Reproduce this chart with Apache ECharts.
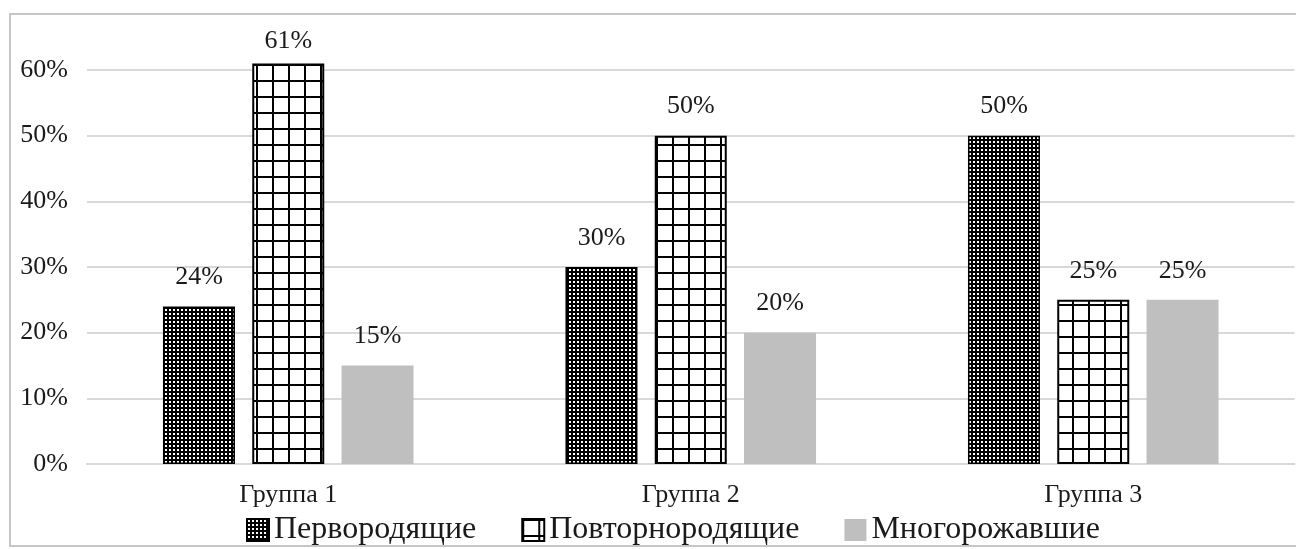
<!DOCTYPE html>
<html>
<head>
<meta charset="utf-8">
<script src="https://cdn.jsdelivr.net/npm/echarts@6/dist/echarts.min.js"></script>
<style>
  html, body { margin: 0; padding: 0; background: #fff; }
  #chart { width: 1296px; height: 549px; }
</style>
</head>
<body>
<div id="chart"></div>
<script>
// Group labels and series values (percent)
const categories = ['Группа 1', 'Группа 2', 'Группа 3'];
const seriesNames = ['Первородящие', 'Повторнородящие', 'Многорожавшие'];
const firstBirth = [24, 30, 50];
const repeatBirth = [61, 50, 25];
const multiBirth = [15, 20, 25];

const serif = '"Liberation Serif", "Times New Roman", serif';
const textColor = '#1a1a1a';

// Dense dotted fill: black with small white squares
function dottedPattern() {
  const c = document.createElement('canvas');
  c.width = 4; c.height = 4;
  const g = c.getContext('2d');
  g.fillStyle = '#000';
  g.fillRect(0, 0, 4, 4);
  g.fillStyle = '#fff';
  g.fillRect(1, 1, 2, 2);
  return c;
}

// Open grid fill: white cells separated by black lines
function gridPattern() {
  const c = document.createElement('canvas');
  c.width = 16; c.height = 16;
  const g = c.getContext('2d');
  g.fillStyle = '#fff';
  g.fillRect(0, 0, 16, 16);
  g.fillStyle = '#000';
  g.fillRect(0, 0, 2, 16);
  g.fillRect(0, 0, 16, 2);
  return c;
}

const chart = echarts.init(document.getElementById('chart'), null, { renderer: 'canvas' });

const labelStyle = {
  show: true,
  position: 'top',
  distance: 16,
  formatter: '{c}%',
  fontFamily: serif,
  fontSize: 26,
  color: textColor
};

function withTopLabel(values, tightIndex) {
  return values.map((v, i) => i === tightIndex
    ? { value: v, label: { distance: 9 } }
    : v);
}

chart.setOption({
  animation: false,
  backgroundColor: '#fff',
  graphic: [{
    type: 'rect',
    shape: { x: 10, y: 14, width: 1300, height: 532 },
    style: { fill: 'none', stroke: '#c6c6c6', lineWidth: 2 },
    silent: true,
    z: -1
  }],
  grid: { left: 87, right: 1.5, top: 70, bottom: 85 },
  legend: {
    left: 241,
    top: 509,
    icon: 'rect',
    itemWidth: 22,
    itemHeight: 22,
    itemGap: 45,
    textStyle: { fontFamily: serif, fontSize: 32, color: textColor },
    data: seriesNames
  },
  xAxis: {
    type: 'category',
    data: categories,
    axisTick: { show: false },
    axisLine: { lineStyle: { color: '#d9d9d9', width: 2 } },
    axisLabel: { fontFamily: serif, fontSize: 26, color: textColor, margin: 18 }
  },
  yAxis: {
    type: 'value',
    min: 0,
    max: 60,
    interval: 10,
    axisLine: { show: false },
    axisTick: { show: false },
    splitLine: { lineStyle: { color: '#d9d9d9', width: 2 } },
    axisLabel: { fontFamily: serif, fontSize: 26, color: textColor, margin: 19, formatter: '{value}%' }
  },
  series: [
    {
      name: seriesNames[0],
      type: 'bar',
      barWidth: 72,
      barGap: '24%',
      clip: false,
      data: firstBirth,
      itemStyle: { color: { image: dottedPattern(), repeat: 'repeat' }, borderColor: '#000', borderWidth: 1.5 },
      label: labelStyle
    },
    {
      name: seriesNames[1],
      type: 'bar',
      barWidth: 72,
      barGap: '24%',
      clip: false,
      data: withTopLabel(repeatBirth, 0),
      itemStyle: { color: { image: gridPattern(), repeat: 'repeat' }, borderColor: '#000', borderWidth: 2 },
      label: labelStyle
    },
    {
      name: seriesNames[2],
      type: 'bar',
      barWidth: 72,
      barGap: '24%',
      clip: false,
      data: multiBirth,
      itemStyle: { color: '#bfbfbf' },
      label: labelStyle
    }
  ]
});
</script>
</body>
</html>
